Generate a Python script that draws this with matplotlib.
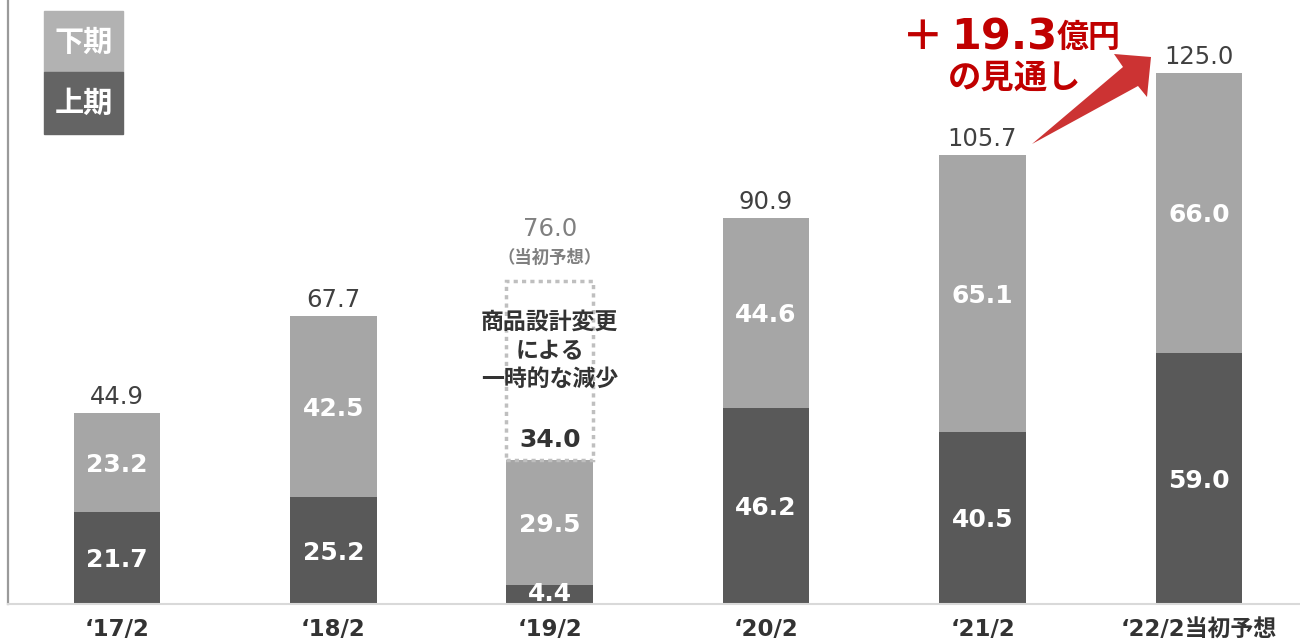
import matplotlib
matplotlib.use("Agg")
import matplotlib.pyplot as plt
from matplotlib.patches import Rectangle, Polygon

plt.rcParams['font.family'] = ['Noto Sans CJK JP', 'DejaVu Sans']

categories = ["‘17/2", "‘18/2", "‘19/2", "‘20/2", "‘21/2", "‘22/2当初予想"]
first_half = [21.7, 25.2, 4.4, 46.2, 40.5, 59.0]   # 上期
second_half = [23.2, 42.5, 29.5, 44.6, 65.1, 66.0]  # 下期
totals = [44.9, 67.7, None, 90.9, 105.7, 125.0]
planned_19 = 76.0
gap_19 = 34.0

dark = "#595959"
light = "#a6a6a6"
num_font = ['DejaVu Sans', 'Noto Sans CJK JP']

W, H = 1300, 642
fig = plt.figure(figsize=(13, 6.42), dpi=100)
ax = fig.add_axes([8 / W, 38 / H, 1 - 8 / W, 604 / H])
x = list(range(len(categories)))
w = 0.4
ax.bar(x, first_half, width=w, color=dark, zorder=2)
ax.bar(x, second_half, width=w, bottom=first_half, color=light, zorder=2)

ax.set_xlim(-0.503, 5.467)
ax.set_ylim(0, 142.2)
for s in ["top", "right"]:
    ax.spines[s].set_visible(False)
ax.spines["left"].set_color("#9a9a9a")
ax.spines["left"].set_linewidth(1.6)
ax.spines["bottom"].set_color("#d9d9d9")
ax.spines["bottom"].set_linewidth(1.5)
ax.set_yticks([])
ax.set_xticks(x)
ax.set_xticklabels(categories, fontsize=16.5, fontweight="bold", color="#333333",
                   family=num_font)
ax.tick_params(axis="x", length=0, pad=10)

# labels inside bars
for i in x:
    a, b = first_half[i], second_half[i]
    ya = a / 2 - 0.5 if a > 8 else a / 2 + 0.2
    ax.text(i, ya, f"{a:.1f}", ha="center", va="center", color="white",
            fontsize=18, fontweight="bold", family=num_font, zorder=3)
    ax.text(i, a + b / 2 - 0.5, f"{b:.1f}", ha="center", va="center", color="white",
            fontsize=18, fontweight="bold", family=num_font, zorder=3)
    if totals[i] is not None:
        ax.text(i, a + b + 1.0, f"{totals[i]:.1f}", ha="center", va="bottom",
                color="#404040", fontsize=17.5, family=num_font, zorder=3)

# '19/2 dashed planned box
base19 = first_half[2] + second_half[2]
ax.add_patch(Rectangle((2 - w / 2, base19), w, planned_19 - base19, fill=False,
                       edgecolor="#bfbfbf", linestyle=(0, (1.2, 1.2)), linewidth=2.5, zorder=2))
ax.text(2, base19 + 4.6, f"{gap_19:.1f}", ha="center", va="center", color="#333333",
        fontsize=18, fontweight="bold", family=num_font, zorder=3)
ax.text(2, 59.6, "商品設計変更\nによる\n一時的な減少", ha="center", va="center",
        color="#333333", fontsize=16.5, fontweight="bold", linespacing=1.33, zorder=3)
ax.text(2, 88.3, f"{planned_19:.1f}", ha="center", va="center", color="#808080",
        fontsize=17.5, family=num_font, zorder=3)
ax.text(2, 81.4, "（当初予想）", ha="center", va="center", color="#808080",
        fontsize=12.5, fontweight="bold", zorder=3)

# legend boxes
for (y0, y1, col, lab) in [(11, 72, "#b2b2b2", "下期"), (72, 134, "#646464", "上期")]:
    fig.patches.append(Rectangle((44 / W, 1 - y1 / H), 79 / W, (y1 - y0) / H,
                                 transform=fig.transFigure, color=col, zorder=1))
    fig.text(83.5 / W, 1 - (y0 + y1) / 2 / H, lab, ha="center", va="center",
             color="white", fontsize=21, fontweight="bold")

# red arrow (pixel outline, converted to figure fraction)
arrow_px = [(1032, 144), (1123, 67), (1114, 54), (1151, 57), (1147, 97), (1138, 86)]
fig.patches.append(Polygon([(px / W, 1 - py / H) for px, py in arrow_px], closed=True,
                           transform=fig.transFigure, facecolor="#cc3333",
                           edgecolor="none", zorder=4))

red = "#c00000"
fig.text(944 / W, 1 - 50 / H, "＋", ha="right", va="baseline", color=red,
         fontsize=30, fontweight="bold")
fig.text(951 / W, 1 - 50 / H, "19.3", ha="left", va="baseline", color=red,
         fontsize=31, fontweight="bold", family=num_font)
fig.text(1057 / W, 1 - 47 / H, "億円", ha="left", va="baseline", color=red,
         fontsize=23, fontweight="bold")
fig.text(1015 / W, 1 - 78 / H, "の見通し", ha="center", va="center", color=red,
         fontsize=24, fontweight="bold")

fig.savefig("out.png", dpi=100)
